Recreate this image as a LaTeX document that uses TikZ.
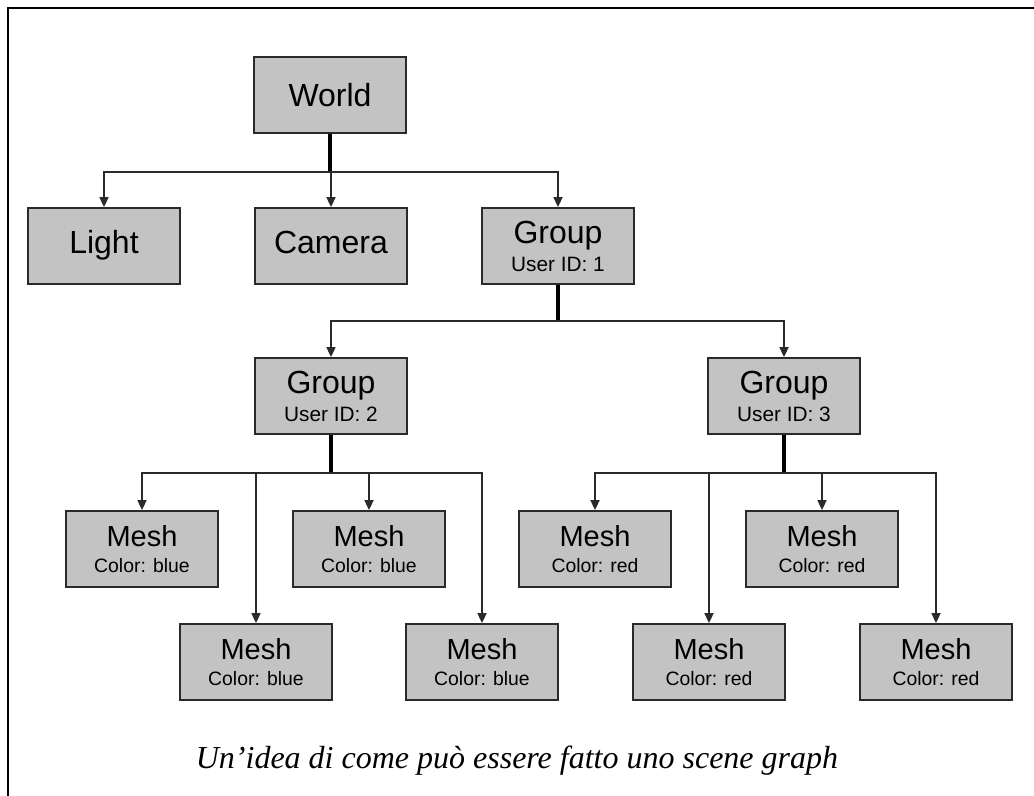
\documentclass[tikz,border=0pt]{standalone}
\usepackage{fontspec}
\setmainfont{Liberation Serif}
\setsansfont{Liberation Sans}
\usepackage{xcolor}
\usetikzlibrary{arrows.meta}
\definecolor{boxgray}{HTML}{C3C3C3}
\definecolor{edgegray}{HTML}{2A2A2A}
\tikzset{
    every node/.append style={font=\sffamily},
    scenebox/.style={draw=edgegray, fill=boxgray, line width=0.9pt, minimum width=76pt, minimum height=38pt, inner sep=0pt, align=center},
    link/.style={line width=0.85pt, draw=edgegray, ->},
    trunk/.style={line width=1.6pt, draw=black}
}
\newcommand{\twoline}[2]{{\fontsize{14.5}{15}\selectfont #1}\\[1pt]{\fontsize{9.7}{11}\selectfont #2}}
\newcommand{\grouptext}[1]{{\fontsize{16}{17}\selectfont Group}\\[2pt]{\fontsize{10.4}{11}\selectfont User ID: #1}}

\begin{document}
\begin{tikzpicture}[x=0.5pt, y=-0.5pt, >={Triangle[length=5pt,width=4.5pt]}]
    \useasboundingbox (0,0) rectangle (1034,796);
    \draw[line width=1.2pt] (8,796) -- (8,8) -- (1034,8);

    % level 0 and 1
    \node[scenebox, font=\sffamily\fontsize{16}{18}\selectfont] (world) at (330,95) {World};
    \node[scenebox, font=\sffamily\fontsize{16}{18}\selectfont] (light) at (104,246) {\strut Light};
    \node[scenebox, font=\sffamily\fontsize{16}{18}\selectfont] (camera) at (331,246) {\strut Camera};
    \node[scenebox] (grp1) at (558,246) {\grouptext{1}};

    % groups
    \node[scenebox] (grp2) at (331,396) {\grouptext{2}};
    \node[scenebox] (grp3) at (784,396) {\grouptext{3}};

    % meshes
    \node[scenebox] (meshA) at (142,549) {\twoline{Mesh}{Color: blue}};
    \node[scenebox] (meshB) at (256,662) {\twoline{Mesh}{Color: blue}};
    \node[scenebox] (meshC) at (369,549) {\twoline{Mesh}{Color: blue}};
    \node[scenebox] (meshD) at (482,662) {\twoline{Mesh}{Color: blue}};
    \node[scenebox] (meshE) at (595,549) {\twoline{Mesh}{Color: red}};
    \node[scenebox] (meshF) at (709,662) {\twoline{Mesh}{Color: red}};
    \node[scenebox] (meshG) at (822,549) {\twoline{Mesh}{Color: red}};
    \node[scenebox] (meshH) at (936,662) {\twoline{Mesh}{Color: red}};

    % connectors
    \draw[trunk] (world.south) -- ++(0,38) coordinate (j0);
    \foreach \n in {light, camera, grp1}
        \draw[link] (j0) -| (\n.north);
    \draw[trunk] (grp1.south) -- ++(0,36) coordinate (j1);
    \foreach \n in {grp2, grp3}
        \draw[link] (j1) -| (\n.north);
    \draw[trunk] (grp2.south) -- ++(0,38) coordinate (j2);
    \foreach \n in {meshA, meshB, meshC, meshD}
        \draw[link] (j2) -| (\n.north);
    \draw[trunk] (grp3.south) -- ++(0,38) coordinate (j3);
    \foreach \n in {meshE, meshF, meshG, meshH}
        \draw[link] (j3) -| (\n.north);

    \node[font=\rmfamily\itshape\fontsize{16}{18}\selectfont, anchor=base] (caption) at (517,768) {Un’idea di come può essere fatto uno scene graph};
\end{tikzpicture}
\end{document}
